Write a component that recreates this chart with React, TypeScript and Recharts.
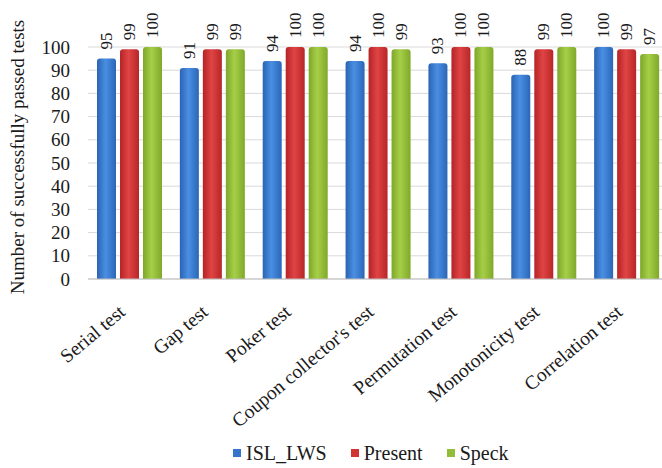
import React from "react";
import { BarChart, Bar, XAxis, YAxis, CartesianGrid, Legend, LabelList } from "recharts";

const categories = ["Serial test", "Gap test", "Poker test", "Coupon collector's test", "Permutation test", "Monotonicity test", "Correlation test"];
const islLws = [95, 91, 94, 94, 93, 88, 100];
const present = [99, 99, 100, 100, 100, 99, 99];
const speck = [100, 99, 100, 99, 100, 100, 97];
const yTicks = [0, 10, 20, 30, 40, 50, 60, 70, 80, 90, 100];

const data = categories.map((c, i) => ({ name: c, ISL_LWS: islLws[i], Present: present[i], Speck: speck[i] }));

const FONT = "'Times New Roman', 'Liberation Serif', Times, serif";
const TXT = "#1a1a1a";

const XTick = (props: any) => {
  const { x, y, payload } = props;
  const ax = x - 3;
  const ay = y + 27;
  return (
    <text x={ax} y={ay} textAnchor="end" fontFamily={FONT} fontSize={19.5} fill={TXT}
      transform={`rotate(-40 ${ax} ${ay})`}>
      {payload.value}
    </text>
  );
};

const YTick = (props: any) => {
  const { y, payload } = props;
  return (
    <text x={70} y={y} textAnchor="end" dominantBaseline="central" fontFamily={FONT} fontSize={19} fill={TXT}>
      {payload.value}
    </text>
  );
};

const TopLabel = (props: any) => {
  const { x, y, width, value } = props;
  const cx = x + width / 2;
  const cy = y - 9;
  return (
    <text x={cx} y={cy} textAnchor="start" dominantBaseline="central" fontFamily={FONT} fontSize={17} fill={TXT}
      transform={`rotate(-90 ${cx} ${cy})`}>
      {value}
    </text>
  );
};

const YTitle = () => (
  <text x={17} y={157} textAnchor="middle" dominantBaseline="central" fontFamily={FONT} fontSize={19} fill={TXT}
    transform="rotate(-90 17 157)">
    Number of successfully passed tests
  </text>
);

const legendItems = [
  { name: "ISL_LWS", color: "#3575cc" },
  { name: "Present", color: "#d03434" },
  { name: "Speck", color: "#92bd38" },
];

const LegendContent = () => (
  <div style={{ display: "flex", justifyContent: "flex-start", alignItems: "center", fontFamily: FONT, fontSize: 20, color: TXT, paddingLeft: 233, height: 30 }}>
    {legendItems.map((it) => (
      <div key={it.name} style={{ display: "flex", alignItems: "center", marginRight: 24 }}>
        <span style={{ display: "inline-block", width: 8, height: 8, background: it.color, marginRight: 5 }} />
        <span>{it.name}</span>
      </div>
    ))}
  </div>
);

export default function App() {
  return (
    <div style={{ position: "fixed", left: 0, top: 0, width: 662, height: 468, overflow: "hidden", background: "#fff" }}>
      <BarChart width={670} height={468} data={data} margin={{ top: 47, right: 2, bottom: 0, left: 0 }}
        barGap={4} barCategoryGap={9}>
        <defs>
          <linearGradient id="gBlue" x1="0" y1="0" x2="1" y2="0">
            <stop offset="0" stopColor="#2a63b3" />
            <stop offset="0.45" stopColor="#4a8fe2" />
            <stop offset="1" stopColor="#2a66b8" />
          </linearGradient>
          <linearGradient id="gRed" x1="0" y1="0" x2="1" y2="0">
            <stop offset="0" stopColor="#b52326" />
            <stop offset="0.45" stopColor="#e04444" />
            <stop offset="1" stopColor="#b82628" />
          </linearGradient>
          <linearGradient id="gGreen" x1="0" y1="0" x2="1" y2="0">
            <stop offset="0" stopColor="#7ea629" />
            <stop offset="0.45" stopColor="#a6cf48" />
            <stop offset="1" stopColor="#80a82a" />
          </linearGradient>
        </defs>
        <CartesianGrid vertical={false} stroke="#d9d9d9" />
        <XAxis dataKey="name" interval={0} height={159} tick={<XTick />} tickLine={false} axisLine={{ stroke: "#bfbfbf" }} />
        <YAxis domain={[0, 100]} ticks={yTicks} interval={0} width={88} tickLine={false} axisLine={false}
          tick={<YTick />} label={{ content: <YTitle /> }} />
        <Legend verticalAlign="bottom" height={30} content={<LegendContent />} />
        <Bar dataKey="ISL_LWS" fill="url(#gBlue)" barSize={19} radius={[3, 3, 0, 0]} isAnimationActive={false}>
          <LabelList dataKey="ISL_LWS" content={<TopLabel />} />
        </Bar>
        <Bar dataKey="Present" fill="url(#gRed)" barSize={19} radius={[3, 3, 0, 0]} isAnimationActive={false}>
          <LabelList dataKey="Present" content={<TopLabel />} />
        </Bar>
        <Bar dataKey="Speck" fill="url(#gGreen)" barSize={19} radius={[3, 3, 0, 0]} isAnimationActive={false}>
          <LabelList dataKey="Speck" content={<TopLabel />} />
        </Bar>
      </BarChart>
    </div>
  );
}
